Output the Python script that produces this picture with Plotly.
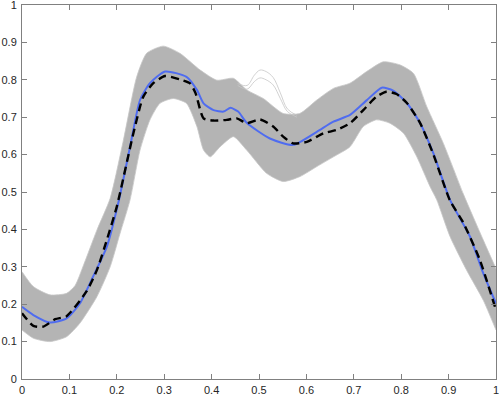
import plotly.graph_objects as go

# mean curve (blue)
mean_x = [0, 0.024, 0.059, 0.094, 0.122, 0.150, 0.179, 0.203, 0.228, 0.249, 0.270, 0.302,
          0.347, 0.369, 0.383, 0.404, 0.425, 0.440, 0.456, 0.474, 0.523, 0.572, 0.622,
          0.657, 0.692, 0.727, 0.759, 0.783, 0.812, 0.840, 0.868, 0.903, 0.945, 0.973, 1.0]
mean_y = [0.193, 0.171, 0.151, 0.162, 0.202, 0.274, 0.354, 0.470, 0.621, 0.746, 0.791, 0.822,
          0.808, 0.773, 0.737, 0.719, 0.715, 0.725, 0.715, 0.685, 0.643, 0.626, 0.661,
          0.688, 0.706, 0.745, 0.779, 0.771, 0.738, 0.684, 0.603, 0.479, 0.381, 0.283, 0.202]

# reference curve (black dashed)
ref_x = [0, 0.024, 0.045, 0.070, 0.094, 0.136, 0.158, 0.179, 0.200, 0.235, 0.256, 0.277,
         0.302, 0.333, 0.354, 0.366, 0.383, 0.404, 0.432, 0.453, 0.474, 0.502, 0.530, 0.551,
         0.572, 0.601, 0.636, 0.664, 0.692, 0.720, 0.748, 0.769, 0.790, 0.812, 0.840,
         0.868, 0.903, 0.931, 0.966, 1.0]
ref_y = [0.176, 0.142, 0.140, 0.160, 0.168, 0.234, 0.291, 0.372, 0.461, 0.657, 0.755, 0.791,
         0.810, 0.801, 0.791, 0.765, 0.697, 0.691, 0.693, 0.697, 0.684, 0.694, 0.675, 0.648,
         0.630, 0.634, 0.657, 0.666, 0.684, 0.719, 0.755, 0.768, 0.762, 0.738, 0.684,
         0.600, 0.477, 0.418, 0.318, 0.184]

# envelope of the sample curves (grey band)
upper_x = [0, 0.024, 0.059, 0.094, 0.112, 0.130, 0.158, 0.186, 0.214, 0.242, 0.263, 0.298,
           0.333, 0.376, 0.411, 0.446, 0.474, 0.509, 0.551, 0.586, 0.622, 0.657, 0.692,
           0.727, 0.762, 0.797, 0.826, 0.854, 0.889, 0.931, 0.973, 1.0]
upper_y = [0.287, 0.247, 0.225, 0.229, 0.250, 0.305, 0.398, 0.483, 0.639, 0.808, 0.871, 0.890,
           0.871, 0.826, 0.799, 0.804, 0.773, 0.750, 0.710, 0.710, 0.746, 0.777, 0.791,
           0.822, 0.848, 0.840, 0.817, 0.728, 0.630, 0.495, 0.372, 0.295]

lower_x = [0, 0.024, 0.059, 0.094, 0.122, 0.158, 0.186, 0.207, 0.228, 0.249, 0.270, 0.291,
           0.319, 0.347, 0.369, 0.383, 0.397, 0.418, 0.446, 0.474, 0.516, 0.551, 0.586,
           0.622, 0.657, 0.692, 0.720, 0.748, 0.776, 0.805, 0.833, 0.861, 0.875, 0.903,
           0.938, 0.973, 1.0]
lower_y = [0.131, 0.109, 0.100, 0.113, 0.149, 0.220, 0.300, 0.390, 0.479, 0.612, 0.693, 0.737,
           0.750, 0.737, 0.675, 0.612, 0.594, 0.621, 0.648, 0.612, 0.550, 0.528, 0.541,
           0.568, 0.594, 0.621, 0.675, 0.693, 0.684, 0.657, 0.594, 0.514, 0.479, 0.381,
           0.291, 0.211, 0.131]

# a few stray curves poking out of the band near x=0.5
bump1_x = [0.455, 0.475, 0.490, 0.502, 0.515, 0.530, 0.545, 0.560, 0.580]
bump1_y = [0.790, 0.785, 0.812, 0.826, 0.822, 0.806, 0.765, 0.722, 0.705]
bump2_x = [0.455, 0.475, 0.490, 0.502, 0.515, 0.530, 0.545, 0.560, 0.580]
bump2_y = [0.785, 0.775, 0.795, 0.805, 0.800, 0.786, 0.750, 0.715, 0.700]

ticks = [i / 10 for i in range(11)]
tick_text = ["0"] + [f"0.{i}" for i in range(1, 10)] + ["1"]

band_grey = "#b4b4b4"
edge_grey = "#c6c6c6"

fig = go.Figure()

fig.add_trace(go.Scatter(x=lower_x, y=lower_y, mode="lines",
                         line=dict(color=edge_grey, width=0.8, shape="spline", smoothing=0.6),
                         hoverinfo="skip"))
fig.add_trace(go.Scatter(x=upper_x, y=upper_y, mode="lines", fill="tonexty",
                         fillcolor=band_grey,
                         line=dict(color=edge_grey, width=0.8, shape="spline", smoothing=0.6),
                         hoverinfo="skip"))
for bx, by in [(bump1_x, bump1_y), (bump2_x, bump2_y)]:
    fig.add_trace(go.Scatter(x=bx, y=by, mode="lines",
                             line=dict(color=edge_grey, width=0.8, shape="spline"),
                             hoverinfo="skip"))

fig.add_trace(go.Scatter(x=mean_x, y=mean_y, mode="lines", name="mean",
                         line=dict(color="#4f6cf0", width=2, shape="spline", smoothing=0.6)))
fig.add_trace(go.Scatter(x=ref_x, y=ref_y, mode="lines", name="reference",
                         line=dict(color="black", width=2.4, dash="8px,5px",
                                   shape="spline", smoothing=0.6)))

axis_style = dict(
    range=[0, 1], tickvals=ticks, ticktext=tick_text,
    showline=True, linecolor="#808080", linewidth=1, mirror="ticks",
    ticks="inside", ticklen=5, tickcolor="#808080",
    showgrid=False, zeroline=False, automargin=False,
    ticklabeloverflow="allow",
    tickfont=dict(family="Liberation Sans, Arial", size=11, color="#262626"),
)

fig.update_layout(
    width=499, height=396,
    margin=dict(l=22, r=3, t=5, b=17, autoexpand=False),
    plot_bgcolor="white", paper_bgcolor="white",
    showlegend=False,
    xaxis=axis_style,
    yaxis=dict(axis_style, ticklabelstandoff=2),
    xaxis_ticklabelstandoff=1,
)

# drop the default page margin so the figure sits at the window's corner
fig.write_html("out.html", config={"displayModeBar": False},
               post_script="document.body.style.margin='0';")
